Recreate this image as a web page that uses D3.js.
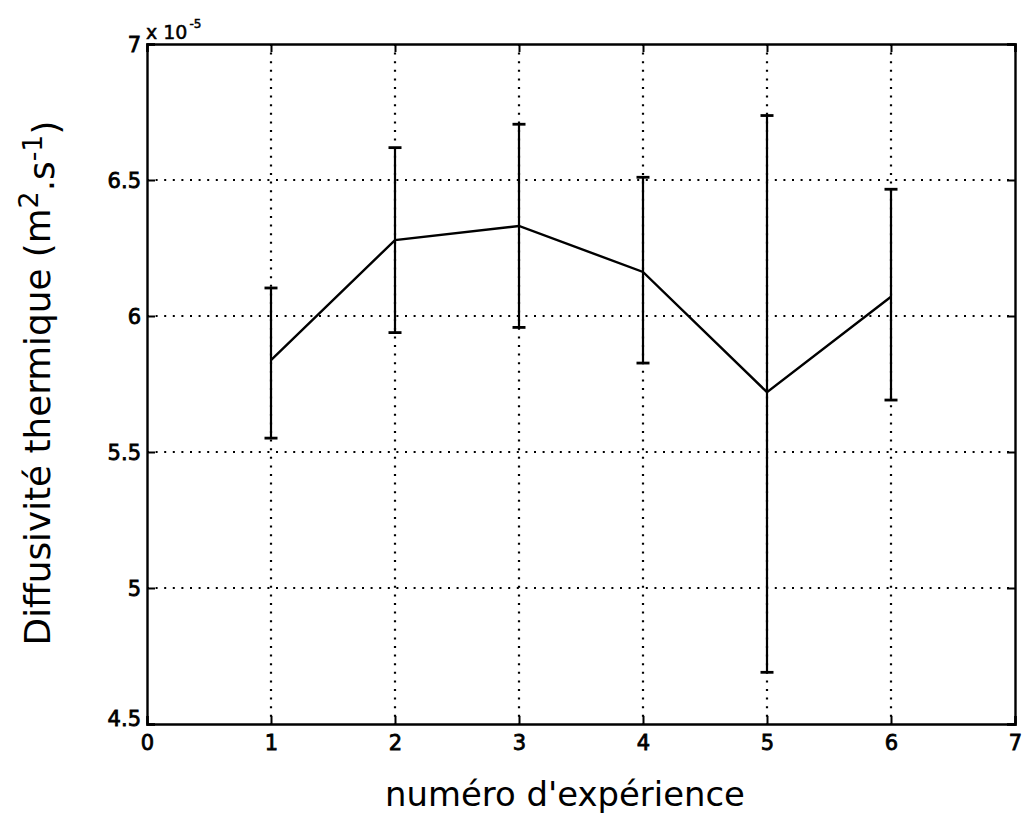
<!DOCTYPE html>
<html><head><meta charset="utf-8">
<script src="https://cdn.jsdelivr.net/npm/d3@7"></script>
<style>body{margin:0;background:#fff}svg{display:block}text{font-family:"DejaVu Sans",Arial,sans-serif;fill:#000}</style>
</head><body><svg id="c" width="1024" height="834"></svg>
<script>
const experiments = [1, 2, 3, 4, 5, 6];
const meanValues = [5.838, 6.279, 6.331, 6.162, 5.720, 6.071];
const upperValues = [6.103, 6.619, 6.705, 6.510, 6.737, 6.466];
const lowerValues = [5.551, 5.939, 5.958, 5.827, 4.690, 5.691];
const xTicks = [0, 1, 2, 3, 4, 5, 6, 7];
const yTicks = [4.5, 5, 5.5, 6, 6.5, 7];
const yTickLabels = ["4.5", "5", "5.5", "6", "6.5", "7"];

const svg = d3.select("#c");
const L = 147, R = 1015, T = 44, B = 724;
const x = d3.scaleLinear().domain([0, 7]).range([L, R]);
const y = d3.scaleLinear().domain([4.5, 7]).range([B, T]);

// grid
const g = svg.append("g");
g.selectAll(".vg").data(xTicks.slice(1, -1)).enter().append("line")
  .attr("x1", d => x(d)).attr("x2", d => x(d)).attr("y1", T).attr("y2", B)
  .attr("stroke", "#000").attr("stroke-width", 2.2).attr("stroke-dasharray", "2,6.6");
g.selectAll(".hg").data(yTicks.slice(1, -1)).enter().append("line")
  .attr("y1", d => y(d)).attr("y2", d => y(d)).attr("x1", L).attr("x2", R)
  .attr("stroke", "#000").attr("stroke-width", 2.2).attr("stroke-dasharray", "2,6.6");

// axes with inward ticks
const axB = svg.append("g").attr("transform", `translate(0,${B})`)
  .call(d3.axisBottom(x).tickValues(xTicks).tickSize(-8).tickPadding(13).tickFormat(d => String(d)));
const axT = svg.append("g").attr("transform", `translate(0,${T})`)
  .call(d3.axisTop(x).tickValues(xTicks).tickSize(-8).tickFormat(""));
const axL = svg.append("g").attr("transform", `translate(${L},0)`)
  .call(d3.axisLeft(y).tickValues(yTicks).tickSize(-8).tickPadding(6).tickFormat((d, i) => yTickLabels[i]));
const axRt = svg.append("g").attr("transform", `translate(${R},0)`)
  .call(d3.axisRight(y).tickValues(yTicks).tickSize(-8).tickFormat(""));
[axB, axT, axL, axRt].forEach(a => {
  a.select(".domain").attr("stroke-width", 2.4).attr("stroke", "#000");
  a.selectAll(".tick line").attr("stroke-width", 2).attr("stroke", "#000");
  a.selectAll("text").style("font-size", "21px").style("font-family", "'DejaVu Sans',Arial,sans-serif")
    .attr("stroke", "#000").attr("stroke-width", 0.8).attr("fill", "#000");
});
axB.selectAll("text").attr("dy", "0.6em");
axL.selectAll("text").attr("dy", (d) => d === 4.5 ? "0.05em" : "0.38em");

// exponent
const ex = svg.append("text").attr("x", L - 1).attr("y", 39).style("font-size", "19px")
  .attr("stroke", "#000").attr("stroke-width", 0.5);
ex.append("tspan").text("x 10");
ex.append("tspan").attr("dy", -11).attr("dx", 2).style("font-size", "12px").text("-5");

// error bars
const eb = svg.append("g");
experiments.forEach((e, i) => {
  eb.append("line").attr("x1", x(e)).attr("x2", x(e)).attr("y1", y(lowerValues[i])).attr("y2", y(upperValues[i]))
    .attr("stroke", "#000").attr("stroke-width", 2.2);
  [lowerValues[i], upperValues[i]].forEach(v => {
    eb.append("line").attr("x1", x(e) - 6.5).attr("x2", x(e) + 6.5).attr("y1", y(v)).attr("y2", y(v))
      .attr("stroke", "#000").attr("stroke-width", 2.8);
  });
});
// mean line
svg.append("path").datum(experiments.map((e, i) => [e, meanValues[i]]))
  .attr("d", d3.line().x(d => x(d[0])).y(d => y(d[1])))
  .attr("fill", "none").attr("stroke", "#000").attr("stroke-width", 2.4);

// labels
function fit(sel, target) {
  const w = sel.node().getComputedTextLength();
  const fs = parseFloat(sel.style("font-size"));
  sel.style("font-size", (fs * target / w) + "px");
}
const xl = svg.append("text").attr("x", 565).attr("y", 806).attr("text-anchor", "middle")
  .style("font-size", "26px").text("numéro d'expérience");
fit(xl, 360);

const yl = svg.append("text").attr("transform", "translate(50,383) rotate(-90)").attr("text-anchor", "middle")
  .style("font-size", "26px");
yl.append("tspan").text("Diffusivité thermique (m");
yl.append("tspan").attr("dy", "-0.45em").style("font-size", "0.75em").text("2");
yl.append("tspan").attr("dy", "0.45em").text(".s");
yl.append("tspan").attr("dy", "-0.45em").style("font-size", "0.75em").text("-1");
yl.append("tspan").attr("dy", "0.45em").text(")");
fit(yl, 525);
</script></body></html>
